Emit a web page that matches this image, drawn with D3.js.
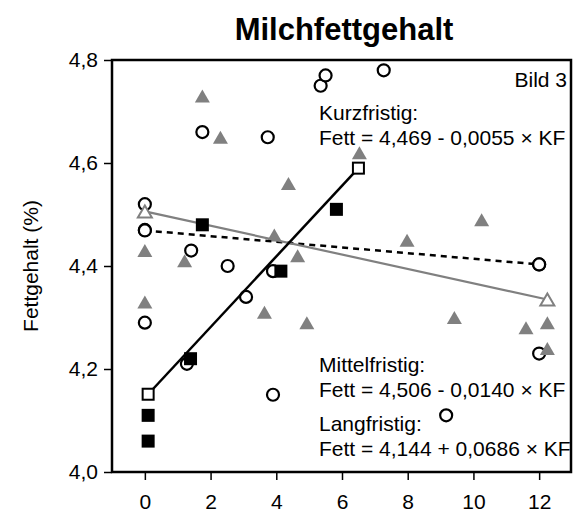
<!DOCTYPE html>
<html><head><meta charset="utf-8">
<script src="https://cdn.jsdelivr.net/npm/d3@7"></script>
<style>
html,body{margin:0;padding:0;background:#fff;}
text{font-family:Arial,"Liberation Sans",Helvetica,sans-serif;}
</style></head>
<body><svg id="chart" width="576" height="519"></svg>
<script>
// Kurzfristig (open circles)
const kurzX = [0, 0, 0, 1.41, 1.28, 1.75, 2.52, 3.08, 3.74, 3.9, 3.9, 5.35, 5.5, 7.27, 9.17, 12.0, 12.0];
const kurzY = [4.52, 4.47, 4.29, 4.43, 4.21, 4.66, 4.40, 4.34, 4.65, 4.39, 4.15, 4.75, 4.77, 4.78, 4.11, 4.23, 4.403];
// Mittelfristig (grey triangles)
const mittelX = [0, 0, 1.21, 1.75, 2.3, 3.64, 3.94, 4.37, 4.65, 4.93, 6.53, 7.98, 9.42, 10.25, 11.6, 12.25, 12.25];
const mittelY = [4.43, 4.33, 4.41, 4.73, 4.65, 4.31, 4.46, 4.56, 4.42, 4.29, 4.62, 4.45, 4.30, 4.49, 4.28, 4.29, 4.24];
// Langfristig (black squares)
const langX = [0.1, 0.1, 1.39, 1.75, 4.14, 5.83];
const langY = [4.11, 4.06, 4.22, 4.48, 4.39, 4.51];
// regression line end points
const kurzLineX = [0, 12];
const kurzLineY = [4.469, 4.403];
const mittelLineX = [0, 12.25];
const mittelLineY = [4.506, 4.335];
const langLineX = [0.1, 6.5];
const langLineY = [4.151, 4.590];
// ticks
const xTicks = [0, 2, 4, 6, 8, 10, 12];
const yTicks = [4.0, 4.2, 4.4, 4.6, 4.8];
const yTickLabels = ["4,0", "4,2", "4,4", "4,6", "4,8"];
// texts
const title = "Milchfettgehalt";
const yTitle = "Fettgehalt (%)";
const bild = "Bild 3";
const eqKurz = ["Kurzfristig:", "Fett = 4,469 - 0,0055 × KF"];
const eqMittel = ["Mittelfristig:", "Fett = 4,506 - 0,0140 × KF"];
const eqLang = ["Langfristig:", "Fett = 4,144 + 0,0686 × KF"];

const W = 576, H = 519;
const m = {left:112, right:4, top:60, bottom:47};
const svg = d3.select("#chart");
const x = d3.scaleLinear().domain([-1, 13]).range([m.left, W - m.right]);
const y = d3.scaleLinear().domain([4.0, 4.8]).range([H - m.bottom, m.top]);

// title
svg.append("text").attr("x", 344).attr("y", 40).attr("text-anchor","middle")
  .attr("font-size", 31).attr("font-weight","bold").text(title);
// y title
svg.append("text").attr("transform","translate(38,266) rotate(-90)")
  .attr("text-anchor","middle").attr("font-size",21).text(yTitle);

// axes
const xAxis = d3.axisBottom(x).tickValues(xTicks).tickSize(8).tickPadding(14).tickFormat(d=>d);
const gx = svg.append("g").attr("transform",`translate(0,${H-m.bottom})`).call(xAxis);
gx.select(".domain").remove();
gx.selectAll("line").attr("stroke","#000").attr("stroke-width",1.5);
gx.selectAll("text").attr("font-size",21).attr("fill","#000").style("font-family","Arial,'Liberation Sans',sans-serif");

const yAxis = d3.axisLeft(y).tickValues(yTicks).tickSize(8).tickPadding(6).tickFormat((d,i)=>yTickLabels[i]);
const gy = svg.append("g").attr("transform",`translate(${m.left},0)`).call(yAxis);
gy.select(".domain").remove();
gy.selectAll("line").attr("stroke","#000").attr("stroke-width",1.5);
gy.selectAll("text").attr("font-size",21).attr("fill","#000").style("font-family","Arial,'Liberation Sans',sans-serif");

// frame
svg.append("rect").attr("x", m.left).attr("y", m.top)
  .attr("width", W - m.left - m.right - 1).attr("height", H - m.top - m.bottom)
  .attr("fill","none").attr("stroke","#000").attr("stroke-width",2.5);

const grey = "#808080";
const tri = "M0,-6.5L7.5,6.5L-7.5,6.5Z";

// circles
svg.append("g").selectAll("circle").data(kurzX.map((d,i)=>[d,kurzY[i]])).join("circle")
  .attr("cx", d=>x(d[0])).attr("cy", d=>y(d[1])).attr("r",6)
  .attr("fill","#fff").attr("stroke","#000").attr("stroke-width",2.2);
// triangles
svg.append("g").selectAll("path").data(mittelX.map((d,i)=>[d,mittelY[i]])).join("path")
  .attr("d", tri).attr("transform", d=>`translate(${x(d[0])},${y(d[1])})`).attr("fill", grey);

// lines
const line = d3.line().x(d=>x(d[0])).y(d=>y(d[1]));
svg.append("path").attr("d", line(kurzLineX.map((d,i)=>[d,kurzLineY[i]])))
  .attr("stroke","#000").attr("stroke-width",2.5).attr("stroke-dasharray","6,5").attr("fill","none");
svg.append("path").attr("d", line(mittelLineX.map((d,i)=>[d,mittelLineY[i]])))
  .attr("stroke",grey).attr("stroke-width",2.2).attr("fill","none");
svg.append("path").attr("d", line(langLineX.map((d,i)=>[d,langLineY[i]])))
  .attr("stroke","#000").attr("stroke-width",2.5).attr("fill","none");

// squares
svg.append("g").selectAll("rect").data(langX.map((d,i)=>[d,langY[i]])).join("rect")
  .attr("x", d=>x(d[0])-6.5).attr("y", d=>y(d[1])-6.5).attr("width",13).attr("height",13).attr("fill","#000");

// endpoint markers
svg.append("g").selectAll("circle").data([[kurzLineX[0],kurzLineY[0]],[kurzLineX[1],kurzLineY[1]]]).join("circle")
  .attr("cx", d=>x(d[0])).attr("cy", d=>y(d[1])).attr("r",6)
  .attr("fill","#fff").attr("stroke","#000").attr("stroke-width",2.2);
svg.append("g").selectAll("path").data([[mittelLineX[0],mittelLineY[0]],[mittelLineX[1],mittelLineY[1]]]).join("path")
  .attr("d", "M0,-6L7,6L-7,6Z").attr("transform", d=>`translate(${x(d[0])},${y(d[1])})`)
  .attr("fill","#fff").attr("stroke",grey).attr("stroke-width",2);
svg.append("g").selectAll("rect").data([[langLineX[0],langLineY[0]],[langLineX[1],langLineY[1]]]).join("rect")
  .attr("x", d=>x(d[0])-5.5).attr("y", d=>y(d[1])-5.5).attr("width",11).attr("height",11)
  .attr("fill","#fff").attr("stroke","#000").attr("stroke-width",2);

// annotation texts
svg.append("text").attr("x",567).attr("y",87).attr("text-anchor","end").attr("font-size",21).text(bild);
function eq(lines, x0, y0){
  lines.forEach((t,i)=>svg.append("text").attr("x",x0).attr("y",y0+i*24.5).attr("font-size",21).text(t));
}
eq(eqKurz, 319, 120);
eq(eqMittel, 319, 372);
eq(eqLang, 319, 431);
</script></body></html>
